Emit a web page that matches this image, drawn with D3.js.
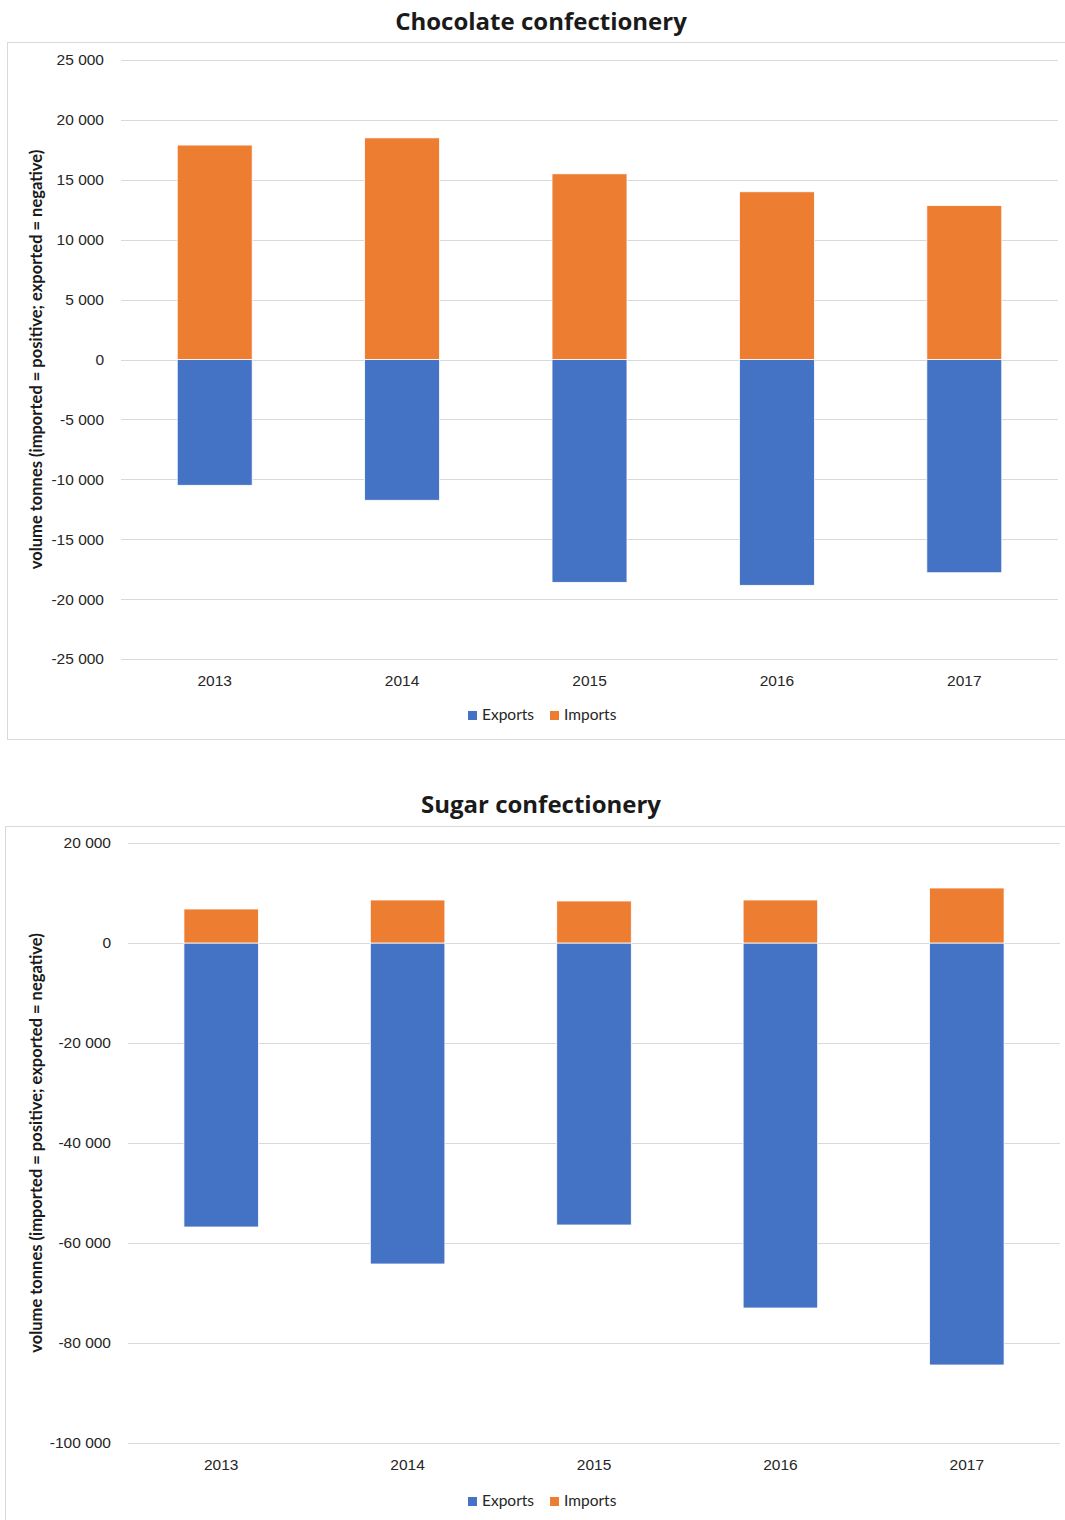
<!DOCTYPE html>
<html>
<head>
<meta charset="utf-8">
<script src="https://cdn.jsdelivr.net/npm/d3@7"></script>
<style>
  body { margin: 0; background: #fff; }
  svg { font-family: Lato, "Open Sans", sans-serif; }
  .tick text { font-size: 15.5px; fill: #262626; }
  .title { font-family: "Open Sans", sans-serif; font-size: 24px; font-weight: bold; fill: #1a1a1a; }
  .axis-label { font-size: 16.5px; font-weight: bold; fill: #1a1a1a; }
  .legend text { font-size: 15.5px; fill: #262626; }
</style>
</head>
<body>
<div id="chart"></div>
<script>
const years = ["2013", "2014", "2015", "2016", "2017"];

const chocImports = [17900, 18500, 15500, 14000, 12850];
const chocExports = [-10500, -11750, -18600, -18850, -17800];
const chocTicks = [25000, 20000, 15000, 10000, 5000, 0, -5000, -10000, -15000, -20000, -25000];

const sugarImports = [6800, 8600, 8400, 8600, 11000];
const sugarExports = [-56800, -64200, -56400, -73000, -84400];
const sugarTicks = [20000, 0, -20000, -40000, -60000, -80000, -100000];

const blue = "#4472C4";
const orange = "#ED7D31";
const grid = "#d9d9d9";

const svg = d3.select("#chart")
  .append("svg")
  .attr("width", 1065)
  .attr("height", 1520);

const fmt = v => (v < 0 ? "-" : "") + d3.format(",")(Math.abs(v)).replace(/,/g, " ");

function drawChart(opts) {
  const g = svg.append("g");

  // outer frame
  g.append("rect")
    .attr("x", opts.frame[0] + 0.5)
    .attr("y", opts.frame[1] + 0.5)
    .attr("width", opts.frame[2])
    .attr("height", opts.frame[3])
    .attr("fill", "none")
    .attr("stroke", grid);

  g.append("text")
    .attr("class", "title")
    .attr("x", 541)
    .attr("y", opts.titleY)
    .attr("text-anchor", "middle")
    .text(opts.title);

  const x = d3.scaleBand().domain(years).range([opts.left, opts.right]).paddingInner(0.6).paddingOuter(0.3);
  const y = d3.scaleLinear().domain(opts.domain).range([opts.bottom, opts.top]);

  // gridlines
  g.append("g")
    .selectAll("line")
    .data(opts.ticks)
    .join("line")
    .attr("x1", opts.left)
    .attr("x2", opts.right)
    .attr("y1", d => Math.round(y(d)) + 0.5)
    .attr("y2", d => Math.round(y(d)) + 0.5)
    .attr("stroke", grid)
    .attr("stroke-width", 1.2);

  const yAxis = g.append("g")
    .attr("transform", `translate(${opts.left - 14},0)`)
    .call(d3.axisLeft(y).tickValues(opts.ticks).tickFormat(fmt).tickSize(0));
  yAxis.select(".domain").remove();

  const xAxis = g.append("g")
    .attr("transform", `translate(0,${opts.bottom + 13})`)
    .call(d3.axisBottom(x).tickSize(0));
  xAxis.select(".domain").remove();

  const rows = years.map((yr, i) => ({ year: yr, exp: opts.exports[i], imp: opts.imports[i] }));

  g.append("g")
    .selectAll("rect")
    .data(rows)
    .join("rect")
    .attr("x", d => x(d.year))
    .attr("width", x.bandwidth())
    .attr("y", y(0))
    .attr("height", d => y(d.exp) - y(0))
    .attr("fill", blue)
    .attr("stroke", "#fff")
    .attr("stroke-width", 0.8);

  g.append("g")
    .selectAll("rect")
    .data(rows)
    .join("rect")
    .attr("x", d => x(d.year))
    .attr("width", x.bandwidth())
    .attr("y", d => y(d.imp))
    .attr("height", d => y(0) - y(d.imp))
    .attr("fill", orange)
    .attr("stroke", "#fff")
    .attr("stroke-width", 0.8);

  g.append("text")
    .attr("class", "axis-label")
    .attr("transform", "rotate(-90)")
    .attr("x", -(opts.top + opts.bottom) / 2)
    .attr("y", 42)
    .attr("text-anchor", "middle")
    .text("volume tonnes (imported = positive; exported = negative)");

  // legend
  const legend = g.append("g")
    .attr("class", "legend")
    .attr("transform", `translate(468,${opts.legendY})`);
  const items = [["Exports", blue, 0], ["Imports", orange, 82]];
  items.forEach(([name, col, dx]) => {
    legend.append("rect")
      .attr("x", dx)
      .attr("y", -4)
      .attr("width", 9)
      .attr("height", 9)
      .attr("fill", col);
    legend.append("text")
      .attr("x", dx + 14)
      .attr("y", 5)
      .text(name);
  });
}

drawChart({
  title: "Chocolate confectionery",
  titleY: 30,
  frame: [7, 42, 1070, 697],
  left: 121, right: 1058, top: 60, bottom: 659,
  domain: [-25000, 25000],
  ticks: chocTicks,
  imports: chocImports,
  exports: chocExports,
  legendY: 715
});

drawChart({
  title: "Sugar confectionery",
  titleY: 813,
  frame: [5, 826, 1070, 700],
  left: 128, right: 1060, top: 843, bottom: 1443,
  domain: [-100000, 20000],
  ticks: sugarTicks,
  imports: sugarImports,
  exports: sugarExports,
  legendY: 1501
});
</script>
</body>
</html>
